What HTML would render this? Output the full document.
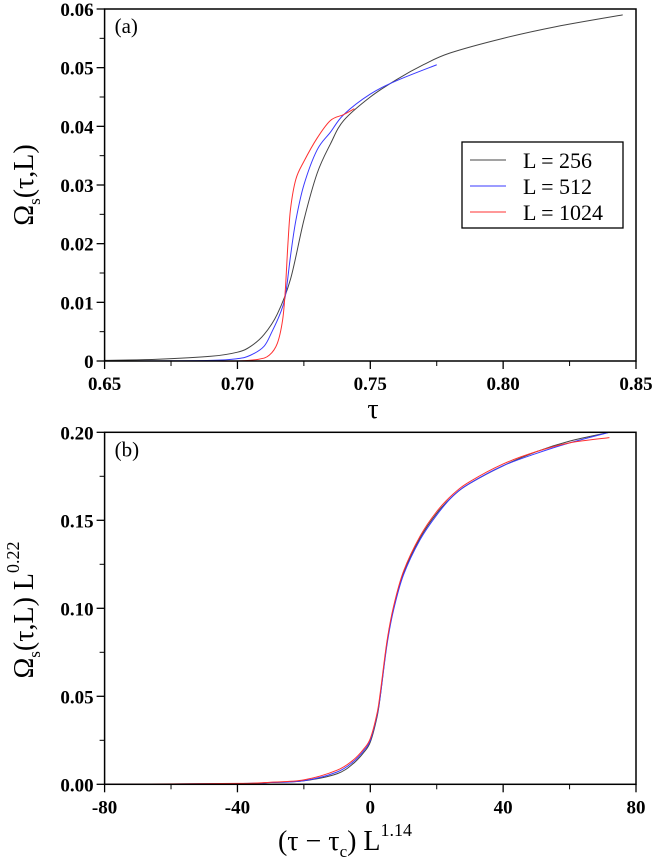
<!DOCTYPE html>
<html><head><meta charset="utf-8"><style>
body{margin:0;background:#fff;}
text{font-family:"Liberation Serif","DejaVu Serif","Times New Roman",serif;}
.tk{font-weight:bold;font-size:19px;}
</style></head><body>
<svg id="c" width="654" height="863" viewBox="0 0 654 863" font-family="Liberation Serif, DejaVu Serif, serif"></svg>
<script>
const aXTicks=[0.65,0.70,0.75,0.80,0.85];
const aXLabels=["0.65","0.70","0.75","0.80","0.85"];
const aYTicks=[0,0.01,0.02,0.03,0.04,0.05,0.06];
const aYLabels=["0","0.01","0.02","0.03","0.04","0.05","0.06"];
const a256x=[0.65,0.67,0.69,0.70,0.705,0.71,0.715,0.72,0.725,0.73,0.735,0.74,0.75,0.76,0.77,0.78,0.80,0.82,0.845];
const a256y=[0.0001,0.0003,0.0008,0.0015,0.0025,0.0045,0.008,0.014,0.024,0.032,0.037,0.041,0.045,0.048,0.0505,0.0525,0.055,0.057,0.059];
const a512x=[0.66,0.69,0.70,0.705,0.71,0.713,0.716,0.718,0.72,0.722,0.725,0.73,0.735,0.74,0.75,0.76,0.775];
const a512y=[0,0.0001,0.0004,0.001,0.0025,0.005,0.008,0.011,0.018,0.024,0.03,0.036,0.039,0.042,0.0455,0.0478,0.0505];
const a1024x=[0.69,0.70,0.708,0.712,0.715,0.717,0.718,0.719,0.72,0.722,0.725,0.73,0.735,0.74,0.744];
const a1024y=[0,0,0.0003,0.001,0.003,0.007,0.012,0.02,0.026,0.031,0.034,0.038,0.041,0.042,0.043];
const bXTicks=[-80,-40,0,40,80];
const bXLabels=["-80","-40","0","40","80"];
const bYTicks=[0,0.05,0.10,0.15,0.20];
const bYLabels=["0.00","0.05","0.10","0.15","0.20"];
const bx=[-80,-40,-30,-20,-10,-5,-2,0,2,3,5,7,10,15,20,25,30,40,50,60,72];
const b256y=[0,0.0004,0.001,0.002,0.006,0.012,0.018,0.024,0.038,0.05,0.08,0.1,0.12,0.14,0.154,0.164,0.171,0.181,0.189,0.195,0.2];
const b512y=[0,0.0004,0.001,0.002,0.007,0.013,0.019,0.025,0.039,0.05,0.079,0.099,0.119,0.139,0.153,0.164,0.171,0.181,0.188,0.194,0.2];
const b1024y=[0,0.0005,0.0012,0.0025,0.008,0.014,0.02,0.026,0.04,0.052,0.081,0.101,0.121,0.141,0.155,0.165,0.172,0.182,0.189,0.194,0.197];

const NS="http://www.w3.org/2000/svg";
const svg=document.getElementById('c');
function el(t,a,p){const e=document.createElementNS(NS,t);for(const k in a)e.setAttribute(k,a[k]);(p||svg).appendChild(e);return e;}
function path(xs,ys,sx,sy){
  const P=xs.map((x,i)=>[sx(x),sy(ys[i])]);
  let d="M"+P[0][0].toFixed(2)+","+P[0][1].toFixed(2);
  for(let i=0;i<P.length-1;i++){
    const p0=P[i-1]||P[i],p1=P[i],p2=P[i+1],p3=P[i+2]||p2;
    const c1=[p1[0]+(p2[0]-p0[0])/6,p1[1]+(p2[1]-p0[1])/6];
    const c2=[p2[0]-(p3[0]-p1[0])/6,p2[1]-(p3[1]-p1[1])/6];
    d+="C"+c1.map(v=>v.toFixed(2))+" "+c2.map(v=>v.toFixed(2))+" "+p2.map(v=>v.toFixed(2));
  }
  return d;
}
function panel(o){
  const sx=v=>o.x0+(v-o.xmin)/(o.xmax-o.xmin)*(o.x1-o.x0);
  const sy=v=>o.y1-(v-o.ymin)/(o.ymax-o.ymin)*(o.y1-o.y0);
  const g=el('g',{});
  
  
  o.xt.forEach((v,i)=>{
    el('line',{x1:sx(v),x2:sx(v),y1:o.y1,y2:o.y1+8,stroke:'#000','stroke-width':1.3},g);
    const t=el('text',{x:sx(v),y:o.y1+29,'text-anchor':'middle',class:'tk'},g);t.textContent=o.xl[i];
    
    if(i<o.xt.length-1){const m=(v+o.xt[i+1])/2;el('line',{x1:sx(m),x2:sx(m),y1:o.y1,y2:o.y1+5,stroke:'#000','stroke-width':1},g);}
  });
  o.yt.forEach((v,i)=>{
    el('line',{x1:o.x0-8,x2:o.x0,y1:sy(v),y2:sy(v),stroke:'#000','stroke-width':1.3},g);
    const t=el('text',{x:o.x0-11,y:sy(v)+7,'text-anchor':'end',class:'tk'},g);t.textContent=o.yl[i];
    
    if(i<o.yt.length-1){const m=(v+o.yt[i+1])/2;el('line',{x1:o.x0-5,x2:o.x0,y1:sy(m),y2:sy(m),stroke:'#000','stroke-width':1},g);}
  });
  o.series.forEach(s=>{
    const p=el('path',{d:path(s.x,s.y,sx,sy),fill:'none',stroke:s.c,'stroke-width':1},g);
    
  });
  const r=el('rect',{x:o.x0,y:o.y0,width:o.x1-o.x0,height:o.y1-o.y0,fill:'none',stroke:'#000','stroke-width':1.5},g);
  
  const lb=el('text',{x:o.x0+10,y:o.y0+24,'font-size':'21'},g);lb.textContent=o.label;
  
}
panel({name:'panel-a',x0:104.6,x1:636,y0:9,y1:361,xmin:0.65,xmax:0.85,ymin:0,ymax:0.06,
  xt:aXTicks,xl:aXLabels,yt:aYTicks,yl:aYLabels,label:'(a)',
  series:[{x:a256x,y:a256y,c:'#444',n:'series-l256'},{x:a512x,y:a512y,c:'#3a3aff',n:'series-l512'},{x:a1024x,y:a1024y,c:'#ff3030',n:'series-l1024'}]});
panel({name:'panel-b',x0:104.6,x1:636,y0:432.3,y1:784.3,xmin:-80,xmax:80,ymin:0,ymax:0.2,
  xt:bXTicks,xl:bXLabels,yt:bYTicks,yl:bYLabels,label:'(b)',
  series:[{x:bx,y:b256y,c:'#444',n:'series-l256-scaled'},{x:bx,y:b512y,c:'#3a3aff',n:'series-l512-scaled'},{x:bx,y:b1024y,c:'#ff3030',n:'series-l1024-scaled'}]});
</script>
<svg width="654" height="863" style="position:absolute;left:0;top:0" font-family="Liberation Serif, DejaVu Serif, serif">
<g>
<rect x="462" y="142" width="161" height="86" fill="#fff" stroke="#000" stroke-width="1.3"/>
<line x1="470" x2="506" y1="160" y2="160" stroke="#444"/>
<line x1="470" x2="506" y1="186" y2="186" stroke="#3a3aff"/>
<line x1="470" x2="506" y1="212" y2="212" stroke="#ff3030"/>
<text x="523" y="168" font-size="22">L = 256</text>
<text x="523" y="194" font-size="22">L = 512</text>
<text x="523" y="220" font-size="22">L = 1024</text>
</g>
<text x="373" y="418" font-size="28" text-anchor="middle">τ</text>
<text transform="translate(33,185) rotate(-90)" font-size="28" text-anchor="middle">Ω<tspan font-size="17" dy="7">s</tspan><tspan dy="-7">(τ,L)</tspan></text>
<text x="345" y="850" font-size="28" text-anchor="middle">(τ − τ<tspan font-size="17" dy="7">c</tspan><tspan dy="-7">) L</tspan><tspan font-size="18" dy="-14">1.14</tspan></text>
<text transform="translate(33,610) rotate(-90)" font-size="28" text-anchor="middle">Ω<tspan font-size="17" dy="7">s</tspan><tspan dy="-7">(τ,L) L</tspan><tspan font-size="18" dy="-14">0.22</tspan></text>
</svg>
</body></html>
